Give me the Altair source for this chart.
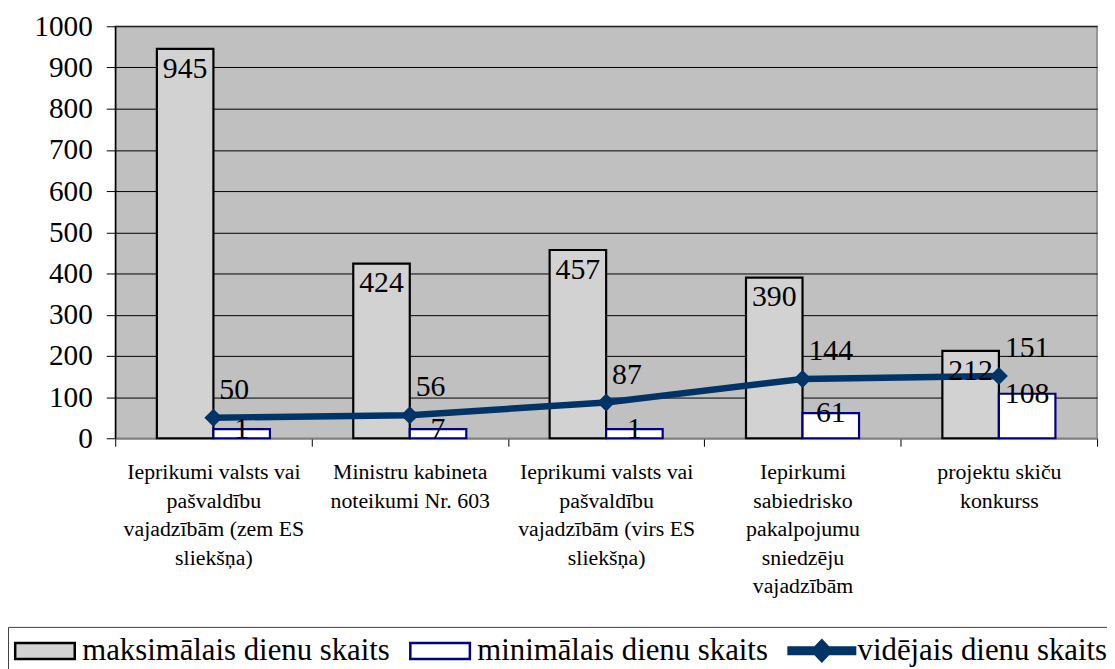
import altair as alt
import pandas as pd

# ---- data ----
categories = [
    "Ieprikumi valsts vai|pašvaldību|vajadzībām (zem ES|sliekšņa)",
    "Ministru kabineta|noteikumi Nr. 603",
    "Ieprikumi valsts vai|pašvaldību|vajadzībām (virs ES|sliekšņa)",
    "Iepirkumi|sabiedrisko|pakalpojumu|sniedzēju|vajadzībām",
    "projektu skiču|konkurss",
]
max_days = [945, 424, 457, 390, 212]
min_days = [1, 7, 1, 61, 108]          # labels shown
min_bar_heights = [22, 22, 22, 61, 108]  # bar heights as drawn
mean_days = [50, 56, 87, 144, 151]

S_MAX = "maksimālais dienu skaits"
S_MIN = "minimālais dienu skaits"
S_MEAN = "vidējais dienu skaits"
series = [S_MAX, S_MIN, S_MEAN]

rows = []
for i, c in enumerate(categories):
    rows.append({"cat": c, "series": S_MAX, "value": max_days[i], "label": str(max_days[i])})
    rows.append({"cat": c, "series": S_MIN, "value": min_bar_heights[i], "label": str(min_days[i])})
    rows.append({"cat": c, "series": S_MEAN, "value": mean_days[i], "label": str(mean_days[i])})
df = pd.DataFrame(rows)

FONT = "Liberation Serif, Times New Roman, serif"
NAVY_LINE = "#003366"
NAVY = "#000080"

fill_scale = alt.Scale(domain=series, range=["#d2d2d2", "#ffffff", NAVY_LINE])
stroke_scale = alt.Scale(domain=series, range=["#000000", NAVY, NAVY_LINE])
rect_path = "M-1.853,-0.47H1.676V0.47H-1.853Z"
line_path = "M-1.97,-0.19H-0.41L0,-0.62L0.41,-0.19H1.97V0.19H0.41L0,0.62L-0.41,0.19H-1.97Z"
shape_scale = alt.Scale(domain=series, range=[rect_path, rect_path, line_path])

x_enc = alt.X(
    "cat:N",
    sort=categories,
    title=None,
    scale=alt.Scale(paddingInner=0, paddingOuter=0),
    axis=alt.Axis(
        labelAngle=0,
        labelExpr="split(datum.label, '|')",
        labelFont=FONT,
        labelFontSize=22,
        labelLineHeight=28.7,
        labelColor="black",
        labelLimit=220,
        labelPadding=16,
        tickBand="extent",
        tickSize=8,
        tickColor="black",
        domainColor="#808080",
        domainWidth=1.5,
        grid=False,
    ),
)
y_scale = alt.Scale(domain=[0, 1000], nice=False)
y_enc = alt.Y(
    "value:Q",
    scale=y_scale,
    title=None,
    axis=alt.Axis(
        values=list(range(0, 1001, 100)),
        format="d",
        labelFont=FONT,
        labelFontSize=29.5,
        labelColor="black",
        labelPadding=14,
        tickSize=9,
        tickColor="black",
        domainColor="black",
        domainWidth=1.5,
        grid=True,
        gridColor="black",
        gridOpacity=1,
        gridWidth=1,
    ),
)

base = alt.Chart(df)
bar_data = base.transform_filter(alt.datum.series != S_MEAN)
mean_data = base.transform_filter(alt.datum.series == S_MEAN)

xoff = alt.XOffset(
    "series:N",
    scale=alt.Scale(domain=[S_MAX, S_MIN], paddingInner=0, paddingOuter=0.737),
)

legend = alt.Legend(
    title=None,
    orient="none",
    legendX=-108,
    legendY=605,
    direction="horizontal",
    labelFont=FONT,
    labelFontSize=31,
    labelColor="black",
    labelLimit=500,
    labelOffset=17.5,
    symbolSize=1156,
    symbolStrokeWidth=2.5,
    symbolOffset=15.25,
    columnPadding=15,
    padding=5,
    strokeColor="#404040",
    fillColor="white",
)
# legend-only layer (no data rows drawn) placed first so its legend wins the merge
legend_layer = base.transform_filter(alt.datum.value < -1).mark_point(
    filled=True, opacity=1, strokeWidth=2.5
).encode(
    x=x_enc,
    y=y_enc,
    fill=alt.Fill("series:N", scale=fill_scale, legend=legend),
    stroke=alt.Stroke("series:N", scale=stroke_scale, legend=legend),
    shape=alt.Shape("series:N", scale=shape_scale, legend=legend),
)

bars = bar_data.mark_bar(strokeWidth=2.2).encode(
    x=x_enc,
    xOffset=xoff,
    y=y_enc,
    fill=alt.Fill("series:N", scale=fill_scale, legend=legend),
    stroke=alt.Stroke("series:N", scale=stroke_scale, legend=legend),
)

max_labels = base.transform_filter(alt.datum.series == S_MAX).mark_text(
    font=FONT, fontSize=30, color="black", baseline="middle", align="center", dy=20
).encode(x=x_enc, xOffset=xoff, y=y_enc, text="label:N")

min_labels = base.transform_filter(alt.datum.series == S_MIN).mark_text(
    font=FONT, fontSize=30, color="black", baseline="middle", align="center", dy=0
).encode(x=x_enc, xOffset=xoff, y=y_enc, text="label:N")

line = mean_data.mark_line(color=NAVY_LINE, strokeWidth=6.5).encode(x=x_enc, y=y_enc)
pts = mean_data.mark_point(
    shape="diamond", filled=True, size=330, color=NAVY_LINE, opacity=1
).encode(x=x_enc, y=y_enc)
mean_labels = mean_data.mark_text(
    font=FONT, fontSize=30, color="black", baseline="middle", align="left", dx=6, dy=-28
).encode(x=x_enc, y=y_enc, text="label:N")

chart = (
    alt.layer(legend_layer, bars, line, pts, max_labels, min_labels, mean_labels)
    .properties(
        width=989,
        height=415,
        autosize=alt.AutoSizeParams(type="none"),
        padding={"left": 108, "top": 16, "right": 10, "bottom": 230},
        background="white",
    )
    .configure_view(fill="#c0c0c0", stroke="#808080", strokeWidth=1.5)
)

chart.save("out.html", embed_options={"renderer": "svg", "actions": False})
